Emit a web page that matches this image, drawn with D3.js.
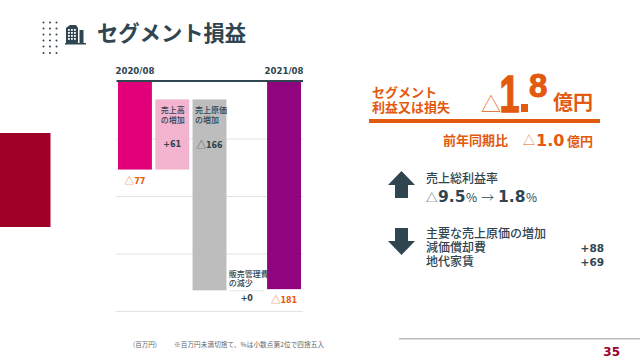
<!DOCTYPE html>
<html>
<head>
<meta charset="utf-8">
<script src="https://cdn.jsdelivr.net/npm/d3@7"></script>
<style>
  html, body { margin: 0; padding: 0; background: #fff; overflow: hidden; }
  text { font-family: "Noto Sans CJK JP", sans-serif; }
  .num { font-family: "DejaVu Sans", sans-serif; font-weight: 700; }
</style>
</head>
<body>
<div id="plot"></div>
<script>
    // waterfall values, in millions of yen
    const steps = ["2020/08", "sales", "cost", "sga", "2021/08"];
    const deltas = [-77, 61, -166, 0, -181];
    const isTotal = [true, false, false, false, true];
    const barColors = ["#e2007a", "#f4b4cf", "#bdbdbd", "#e8e8e8", "#910480"];
    const barLabels = [[], ["売上高", "の増加"], ["売上原価", "の増加"], ["販売管理費", "の減少"], []];
    const valueLabels = ["77", "+61", "166", "+0", "181"];
    const gridTicks = [-50, -100, -150, -200];
    const periodTicks = ["2020/08", "2021/08"];

    const dark = "#2f4550";
    const orange = "#e35a0f";
    const red = "#a00028";

    const svg = d3.select("div#plot")
      .append("svg")
        .attr("width", 640)
        .attr("height", 360);

    // build start/end of every bar from the deltas
    let running = 0;
    const bars = steps.map((s, i) => {
      const start = isTotal[i] ? 0 : running;
      const end = start + deltas[i];
      running = end;
      return { step: s, start, end, i };
    });

    const xScale = d3.scaleBand()
      .domain(steps)
      .range([116.5, 302.5])
      .paddingInner(0.09)
      .paddingOuter(0.04);

    const yScale = d3.scaleLinear()
      .domain([0, -200])
      .range([81, 311]);

    // grid
    const grid = svg.append("g")
      .attr("transform", "translate(116, 0)")
      .call(d3.axisRight(yScale).tickValues(gridTicks).tickSize(187).tickFormat(""));
    grid.select(".domain").remove();
    grid.selectAll("line").attr("stroke", "#e2e2e2").attr("stroke-width", 1);

    function drawBarLabel(b) {
      const lines = barLabels[b.i];
      const cx = xScale(b.step) + xScale.bandwidth() / 2;
      const top = b.i === 3 ? 276.5 : yScale(Math.max(b.start, b.end)) + 14;
      lines.forEach((t, k) => {
        svg.append("text")
          .attr("x", b.i === 1 ? cx - 11.5 : xScale(b.step) + (b.i === 2 ? 2.5 : -1))
          .attr("y", top + k * 9.7)
          .attr("font-size", 8)
          .attr("font-weight", 500)
          .attr("fill", dark)
          .text(t);
      });
    }

    // the long label sits behind the last bar and gets cut by it
    drawBarLabel(bars[3]);

    svg.selectAll(".bar")
      .data(bars)
      .enter()
      .append("rect")
        .attr("class", "bar")
        .attr("x", d => xScale(d.step))
        .attr("y", d => yScale(Math.max(d.start, d.end)))
        .attr("width", xScale.bandwidth())
        .attr("height", d => Math.max(1, yScale(Math.min(d.start, d.end)) - yScale(Math.max(d.start, d.end))))
        .attr("fill", d => barColors[d.i]);

    drawBarLabel(bars[1]);
    drawBarLabel(bars[2]);

    // top axis with the two periods
    const topAxis = svg.append("g")
      .attr("transform", "translate(0, 81)")
      .call(d3.axisTop(xScale).tickValues(periodTicks).tickSize(0).tickPadding(7));
    topAxis.select(".domain")
      .attr("stroke", dark)
      .attr("stroke-width", 2)
      .attr("d", "M116.5,0H303");
    topAxis.selectAll("text")
      .attr("class", "num")
      .attr("font-size", 8.6)
      .attr("fill", dark)
      .style("font-family", '"DejaVu Sans", sans-serif')
      .style("font-weight", 700);

    // value labels
    function deltaLabel(x, y, t, size, color) {
      const g = svg.append("text").attr("x", x).attr("y", y).attr("text-anchor", "middle").attr("fill", color);
      if (!t.startsWith("+")) {
        g.append("tspan").attr("font-size", size + 1.5).attr("font-weight", 300).text("△");
      }
      g.append("tspan").attr("class", "num").attr("font-size", size).text(t);
    }
    const labelY = [183.5, 146.5, 147.5, 301, 302.5];
    bars.forEach(b => {
      const cx = xScale(b.step) + xScale.bandwidth() / 2;
      deltaLabel(cx, labelY[b.i], valueLabels[b.i], 8, isTotal[b.i] ? orange : dark);
    });

    // header decoration
    const dotCols = [43.5, 50, 56.5];
    const dotRows = [22.5, 28.5, 34.5, 40.5, 46.5, 53];
    dotRows.forEach(y => dotCols.forEach(x => {
      svg.append("circle").attr("cx", x).attr("cy", y).attr("r", 1).attr("fill", dark);
    }));

    // building icon
    const icon = svg.append("g").attr("fill", dark);
    icon.append("path").attr("d", "M66,43V28L70,25H76L78,28V43Z");
    icon.append("rect").attr("x", 79.5).attr("y", 30).attr("width", 4).attr("height", 13);
    icon.append("rect").attr("x", 65).attr("y", 43).attr("width", 21).attr("height", 1.5);
    [29, 32, 35, 38].forEach(y => [68, 71, 74].forEach(x => {
      icon.append("rect").attr("x", x).attr("y", y).attr("width", 1.8).attr("height", 1.8).attr("fill", "#fff");
    }));

    function label(x, y, t, size, color, weight, anchor) {
      return svg.append("text")
        .attr("x", x)
        .attr("y", y)
        .attr("font-size", size)
        .attr("font-weight", weight || 700)
        .attr("fill", color)
        .attr("text-anchor", anchor || "start")
        .text(t);
    }
    function num(x, y, t, size, color, anchor) {
      return label(x, y, t, size, color, 700, anchor).attr("class", "num");
    }

    label(97, 41, "セグメント損益", 21.3, dark);

    svg.append("rect").attr("x", 0).attr("y", 133).attr("width", 50.5).attr("height", 94).attr("fill", red);

    // right panel, headline
    label(372, 97, "セグメント", 13, orange);
    label(372, 112, "利益又は損失", 13, orange);
    label(481, 112, "△", 20, orange, 300);
    num(499.5, 112, "1", 51, orange)
      .style("font-family", '"Liberation Sans", sans-serif')
      .attr("stroke", orange).attr("stroke-width", 1.5)
      .attr("textLength", 20).attr("lengthAdjust", "spacingAndGlyphs");
    svg.append("rect").attr("x", 521).attr("y", 104).attr("width", 7).attr("height", 8).attr("fill", orange);
    num(529, 97, "8", 33, orange)
      .style("font-family", '"Liberation Sans", sans-serif')
      .attr("stroke", orange).attr("stroke-width", 1);
    label(553, 110, "億円", 20, orange);
    svg.append("rect").attr("x", 369).attr("y", 119).attr("width", 231).attr("height", 4).attr("fill", orange);

    label(443, 145, "前年同期比", 13, orange);
    label(523, 145, "△", 12, orange, 300);
    num(536, 146, "1.0", 16, orange);
    label(567, 145.5, "億円", 13, orange);

    // arrows
    const arrow = svg.append("g").attr("fill", dark);
    arrow.append("path").attr("d", "M401.5,171L415,185H408V198H395V185H388Z");
    arrow.append("path").attr("d", "M401.5,255L415,241H408V228H395V241H388Z");

    // right panel, details
    label(426, 183, "売上総利益率", 12, dark, 500);
    label(426, 202, "△", 11.5, dark, 300);
    num(438, 202, "9.5", 15.5, dark);
    label(466, 202, "%", 12, dark, 400);
    label(481, 202, "→", 13, dark, 300);
    num(498, 202, "1.8", 15.5, dark);
    label(526, 202, "%", 12, dark, 400);

    label(426, 238, "主要な売上原価の増加", 12, dark, 500);
    label(426, 252, "減価償却費", 12, dark, 500);
    label(426, 266, "地代家賃", 12, dark, 500);
    num(604, 251.5, "+88", 10.5, dark, "end");
    num(604, 265.5, "+69", 10.5, dark, "end");

    // footer
    label(133, 346.5, "(百万円)", 6.5, "#666", 400);
    label(174, 346.5, "※百万円未満切捨て、%は小数点第2位で四捨五入", 6.6, "#666", 400).attr("textLength", 150);
    svg.append("rect").attr("x", 399).attr("y", 338).attr("width", 241).attr("height", 1.5).attr("fill", "#bbb");
    num(620, 356, "35", 12, red, "end");
</script>
</body>
</html>
